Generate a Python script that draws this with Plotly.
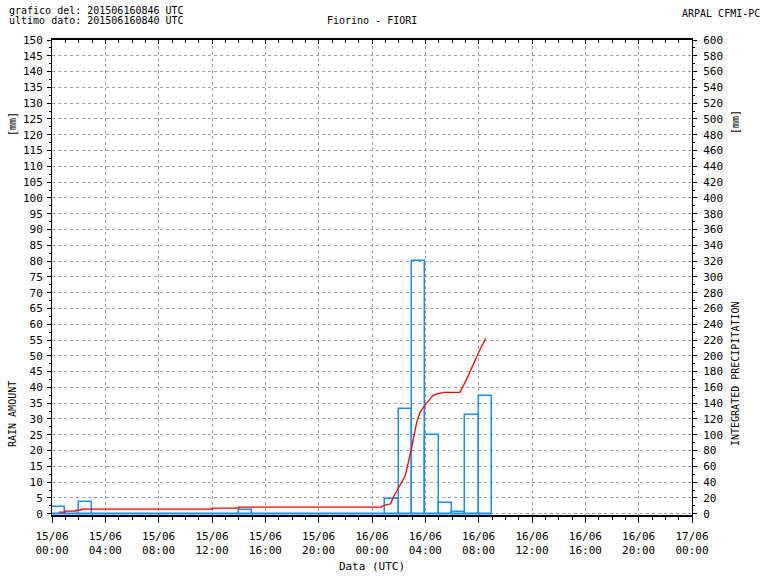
import plotly.graph_objects as go

# ---- data ----
bar_hours = list(range(0, 33))  # hour index since 15/06 00:00 UTC (bar covers hour..hour+1)
rain_mm = [2.2, 0, 3.6, 0, 0, 0, 0, 0, 0, 0, 0, 0, 0, 0, 1.1, 0, 0, 0, 0, 0,
           0, 0, 0, 0, 0, 4.7, 33.1, 80.1, 24.8, 3.4, 0.5, 31.2, 37.2]

cum_hours = [0.5, 1.0, 1.0, 1.8, 1.8, 2.2, 2.2, 12.0, 12.0, 14.0, 14.0, 24.7, 24.8,
             25.4, 25.6, 26.5, 26.95, 27.35, 27.6, 27.85, 28.5, 28.75, 29.35, 30.6,
             31.1, 31.85, 32.1, 32.53]
cum_mm = [2.1, 2.1, 3.4, 3.4, 4.7, 4.7, 5.9, 5.9, 7.2, 7.2, 8.5, 8.5, 10.0,
          12.6, 21.0, 48.4, 82.0, 115.8, 128.4, 134.7, 148.6, 151.2, 153.7, 153.7,
          170.5, 200.0, 208.0, 221.9]

x_tickvals = [0, 4, 8, 12, 16, 20, 24, 28, 32, 36, 40, 44, 48]
x_ticktext = ["15/06<br>00:00", "15/06<br>04:00", "15/06<br>08:00", "15/06<br>12:00",
              "15/06<br>16:00", "15/06<br>20:00", "16/06<br>00:00", "16/06<br>04:00",
              "16/06<br>08:00", "16/06<br>12:00", "16/06<br>16:00", "16/06<br>20:00",
              "17/06<br>00:00"]
left_ticks = list(range(0, 151, 5))
right_ticks = list(range(0, 601, 20))

BLUE = "#1a8cff"
RED = "#ff0000"
FONT = "DejaVu Sans Mono"

fig = go.Figure()

fig.add_trace(go.Bar(
    x=[h + 0.5 for h in bar_hours], y=rain_mm, width=1,
    marker=dict(color="rgba(0,0,0,0)", line=dict(color=BLUE, width=1.5)),
    showlegend=False, hoverinfo="skip", xaxis="x", yaxis="y"))

# zero baseline of the bar series
fig.add_trace(go.Scatter(
    x=[bar_hours[0], bar_hours[-1] + 1], y=[0, 0], mode="lines",
    line=dict(color=BLUE, width=1.5), showlegend=False, hoverinfo="skip",
    xaxis="x", yaxis="y"))

fig.add_trace(go.Scatter(
    x=cum_hours, y=cum_mm, mode="lines", line=dict(color=RED, width=1.3),
    showlegend=False, hoverinfo="skip", xaxis="x", yaxis="y2"))

# invisible trace to anchor the top (mirror) axis
fig.add_trace(go.Scatter(x=[0], y=[0], mode="markers", marker=dict(opacity=0),
                         showlegend=False, hoverinfo="skip", xaxis="x2", yaxis="y"))

grid = dict(gridcolor="#a0a0a0", griddash="3px,3px", gridwidth=1)

fig.update_layout(
    width=768, height=576,
    margin=dict(l=52, r=76, t=40, b=61, autoexpand=False),
    paper_bgcolor="white", plot_bgcolor="white",
    font=dict(family=FONT, size=11, color="black"),
    bargap=0,
    xaxis=dict(range=[0, 48], tickvals=x_tickvals, ticktext=x_ticktext,
               automargin=False,
               showgrid=True, **grid, zeroline=False,
               showline=True, linecolor="black", linewidth=1.5,
               ticks="outside", ticklen=6, tickcolor="black",
               minor=dict(dtick=1, tick0=0, ticks="outside", ticklen=3,
                          tickcolor="black", showgrid=False),
               tickfont=dict(family=FONT, size=11), ticklabelstandoff=4,
               title=dict(text="Data (UTC)", font=dict(family=FONT, size=11),
                          standoff=6)),
    xaxis2=dict(range=[0, 48], overlaying="x", side="top", matches="x",
                automargin=False,
                tickvals=x_tickvals, showticklabels=False, showgrid=False,
                zeroline=False, showline=True, linecolor="black", linewidth=1.5,
                ticks="inside", ticklen=4, tickcolor="black",
                minor=dict(dtick=1, tick0=0, ticks="inside", ticklen=3,
                           tickcolor="black")),
    yaxis=dict(range=[-0.4, 150], tickvals=left_ticks, automargin=False,
               showgrid=True, **grid, zeroline=False,
               showline=True, linecolor="black", linewidth=1,
               ticks="outside", ticklen=4, tickcolor="black",
               minor=dict(dtick=2.5, tick0=0, ticks="outside", ticklen=2,
                          tickcolor="black", showgrid=False),
               tickfont=dict(family=FONT, size=11), ticklabelstandoff=2),
    yaxis2=dict(range=[-1.6, 600], tickvals=right_ticks, overlaying="y",
                automargin=False,
                side="right", showgrid=False, zeroline=False,
                showline=True, linecolor="black", linewidth=1,
                ticks="outside", ticklen=4, tickcolor="black",
                minor=dict(dtick=10, tick0=0, ticks="outside", ticklen=2,
                           tickcolor="black"),
                tickfont=dict(family=FONT, size=11), ticklabelstandoff=4),
)

def px_x(px):
    return (px - 52) / 640.0

def px_y(py):
    return (515 - py) / 475.0

annots = [
    dict(text="grafico del: 201506160846 UTC", x=px_x(7), y=px_y(11), xanchor="left", size=10),
    dict(text="ultimo dato: 201506160840 UTC", x=px_x(7), y=px_y(20), xanchor="left", size=10),
    dict(text="Fiorino - FIORI", x=px_x(372), y=px_y(20), xanchor="center", size=10),
    dict(text="ARPAL CFMI-PC", x=px_x(762), y=px_y(14), xanchor="right", size=10),
]
for a in annots:
    fig.add_annotation(text=a["text"], x=a["x"], y=a["y"], xref="paper", yref="paper",
                       xanchor=a["xanchor"], yanchor="middle", showarrow=False,
                       font=dict(family=FONT, size=a["size"], color="black"))

rot = [
    dict(text="[mm]", x=px_x(12), y=px_y(124)),
    dict(text="RAIN AMOUNT", x=px_x(12), y=px_y(414)),
    dict(text="[mm]", x=px_x(735), y=px_y(122)),
    dict(text="INTEGRATED PRECIPITATION", x=px_x(735), y=px_y(374)),
]
for a in rot:
    fig.add_annotation(text=a["text"], x=a["x"], y=a["y"], xref="paper", yref="paper",
                       xanchor="center", yanchor="middle", textangle=-90, showarrow=False,
                       font=dict(family=FONT, size=10, color="black"))

fig.write_html("out.html", config={"displayModeBar": False},
               post_script="document.body.style.margin='0';document.body.style.overflow='hidden';")
